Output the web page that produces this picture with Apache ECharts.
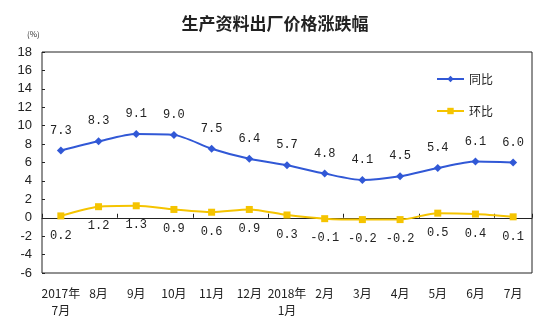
<!DOCTYPE html>
<html>
<head>
<meta charset="utf-8">
<script src="https://cdn.jsdelivr.net/npm/echarts@6/dist/echarts.min.js"></script>
<style>html,body{margin:0;padding:0;background:#fff;}#c{width:550px;height:324px;}</style>
</head>
<body>
<div id="c"></div>
<script>
var categories = ['2017年\n7月','8月','9月','10月','11月','12月','2018年\n1月','2月','3月','4月','5月','6月','7月'];
var yoyValues = [7.3, 8.3, 9.1, 9.0, 7.5, 6.4, 5.7, 4.8, 4.1, 4.5, 5.4, 6.1, 6.0];
var momValues = [0.2, 1.2, 1.3, 0.9, 0.6, 0.9, 0.3, -0.1, -0.2, -0.2, 0.5, 0.4, 0.1];
var yTicks = {min: -6, max: 18, interval: 2};
var titleText = '生产资料出厂价格涨跌幅';
var unitText = '(%)';
var seriesNames = ['同比', '环比'];

var chart = echarts.init(document.getElementById('c'));
var labelFont = {fontFamily: 'Liberation Mono, Noto Sans CJK SC', fontSize: 12, color: '#222'};
chart.setOption({
  animation: false,
  backgroundColor: '#fff',
  title: {
    text: titleText, left: 'center', top: 10,
    textStyle: {fontFamily: 'Noto Sans CJK SC', fontSize: 17, fontWeight: 'bold', color: '#222'}
  },
  graphic: [{
    type: 'text', left: 27, top: 30,
    style: {text: unitText, fontFamily: 'Noto Sans CJK SC', fontSize: 8, fill: '#333'}
  }],
  legend: {
    orient: 'vertical', left: 431, top: 68, itemWidth: 27, itemHeight: 8, itemGap: 20,
    textStyle: {fontFamily: 'Noto Sans CJK SC', fontSize: 12, color: '#222'},
    data: seriesNames
  },
  grid: {left: 42, right: 18, top: 52, bottom: 51, show: true, borderColor: '#222', borderWidth: 1},
  xAxis: [{
    type: 'category', data: categories, position: 'bottom',
    axisLine: {show: false, onZero: false}, axisTick: {show: false},
    axisLabel: {interval: 0, margin: 12, lineHeight: 17, fontFamily: 'Noto Sans CJK SC', fontSize: 12, color: '#222'}
  }, {
    type: 'category', data: categories, position: 'top',
    axisLine: {show: true, onZero: true, lineStyle: {color: '#222', width: 1}},
    axisTick: {show: true, inside: false, length: 4, lineStyle: {color: '#222'}},
    axisLabel: {show: false}
  }],
  yAxis: {
    type: 'value', min: yTicks.min, max: yTicks.max, interval: yTicks.interval,
    axisLine: {show: false}, axisTick: {show: true, inside: true, length: 3, lineStyle: {color: '#222'}},
    splitLine: {show: false},
    axisLabel: {margin: 10, fontFamily: 'Liberation Sans', fontSize: 13, color: '#222'}
  },
  series: [{
    name: seriesNames[0], type: 'line', data: yoyValues, smooth: 0.25,
    symbol: 'diamond', symbolSize: 8,
    lineStyle: {color: '#3158d6', width: 2}, itemStyle: {color: '#3158d6'},
    label: Object.assign({show: true, position: 'top', distance: 10,
      formatter: function (p) { return p.value.toFixed(1); }}, labelFont)
  }, {
    name: seriesNames[1], type: 'line', data: momValues, smooth: 0.25,
    symbol: 'rect', symbolSize: 7,
    lineStyle: {color: '#f5c400', width: 2}, itemStyle: {color: '#f5c400'},
    label: Object.assign({show: true, position: 'bottom', distance: 10,
      formatter: function (p) { return p.value.toFixed(1); }}, labelFont)
  }]
});
</script>
</body>
</html>
